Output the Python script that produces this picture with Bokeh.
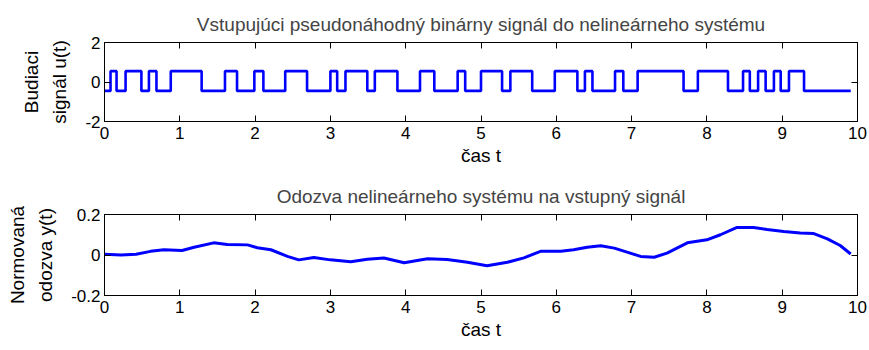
from bokeh.plotting import figure
from bokeh.layouts import column
from bokeh.models import Range1d, LinearAxis, FixedTicker, PrintfTickFormatter
from bokeh.embed import file_html
from bokeh.resources import INLINE

# ---- data ----
# input PRBS: times where the level changes, and the level held from that time
u_times = [0.0, 0.08, 0.16, 0.28, 0.49, 0.59, 0.69, 0.88, 1.29, 1.60, 1.76,
           1.99, 2.11, 2.40, 2.69, 3.00, 3.09, 3.20, 3.49, 3.59, 3.89, 4.19,
           4.38, 4.69, 4.79, 5.00, 5.28, 5.39, 5.68, 5.98, 6.28, 6.38, 6.48,
           6.78, 6.89, 7.08, 7.69, 7.88, 8.28, 8.48, 8.57, 8.68, 8.78, 8.89,
           8.98, 9.09, 9.29]
u_low, u_high = -0.45, 0.55
u_levels = [u_low if i % 2 == 0 else u_high for i in range(len(u_times))]
u_end = 9.91

# normalised response
y_t = [0.0, 0.22, 0.42, 0.61, 0.79, 1.03, 1.19, 1.45, 1.63, 1.90, 2.03, 2.21,
       2.43, 2.58, 2.78, 3.00, 3.27, 3.49, 3.71, 3.98, 4.29, 4.55, 4.82, 5.08,
       5.35, 5.57, 5.79, 6.06, 6.23, 6.41, 6.59, 6.77, 6.94, 7.12, 7.30, 7.47,
       7.74, 8.00, 8.18, 8.40, 8.62, 8.80, 9.02, 9.24, 9.42, 9.60, 9.77, 9.91]
y_val = [0.004, 0.0, 0.004, 0.018, 0.026, 0.022, 0.038, 0.060, 0.052, 0.050,
         0.036, 0.026, -0.007, -0.024, -0.012, -0.024, -0.033, -0.021, -0.015,
         -0.038, -0.019, -0.022, -0.036, -0.053, -0.036, -0.014, 0.018, 0.019,
         0.026, 0.038, 0.046, 0.034, 0.014, -0.007, -0.011, 0.009, 0.060,
         0.075, 0.100, 0.136, 0.136, 0.126, 0.116, 0.109, 0.106, 0.080, 0.047,
         0.005]

x_ticks = list(range(0, 11))
u_ticks = [-2, 0, 2]
y_ticks = [-0.2, 0, 0.2]

FONT = "Liberation Sans"
FS = "17px"
FS_TXT = "19px"


def style(p, yticks, title, ylabel, title_standoff):
    p.title.text = title
    p.title.align = "center"
    p.title.text_font = FONT
    p.title.text_font_size = FS_TXT
    p.title.text_font_style = "normal"
    p.title.standoff = title_standoff
    p.xgrid.visible = False
    p.ygrid.visible = False
    p.outline_line_color = "black"
    for ax in p.xaxis:
        ax.ticker = FixedTicker(ticks=x_ticks)
        ax.formatter = PrintfTickFormatter(format="%g")
        ax.axis_label = "čas t"
        ax.major_label_standoff = 5
        ax.axis_label_standoff = 3
    for ax in p.yaxis:
        ax.ticker = FixedTicker(ticks=yticks)
        ax.formatter = PrintfTickFormatter(format="%g")
        ax.axis_label = ylabel
        ax.major_label_standoff = 4
        ax.axis_label_standoff = 12
        ax.axis_label_text_line_height = 1.35
    for ax in p.xaxis + p.yaxis:
        ax.major_tick_in = 6
        ax.major_tick_out = 0
        ax.minor_tick_in = 0
        ax.minor_tick_out = 0
        ax.axis_line_color = "black"
        ax.major_tick_line_color = "black"
        ax.major_label_text_font = FONT
        ax.major_label_text_font_size = FS
        ax.major_label_text_color = "black"
        ax.axis_label_text_font = FONT
        ax.axis_label_text_font_size = FS_TXT
        ax.axis_label_text_font_style = "normal"
        ax.axis_label_text_color = "black"
    # box ticks on top and right (no labels)
    top = LinearAxis(ticker=FixedTicker(ticks=x_ticks), major_tick_in=6,
                     major_tick_out=0, minor_tick_in=0, minor_tick_out=0,
                     major_label_text_font_size="1px", major_label_text_color=None,
                     major_label_standoff=0, axis_line_color="black")
    right = LinearAxis(ticker=FixedTicker(ticks=yticks), major_tick_in=6,
                       major_tick_out=0, minor_tick_in=0, minor_tick_out=0,
                       major_label_text_font_size="1px", major_label_text_color=None,
                       major_label_standoff=0, axis_line_color="black")
    p.add_layout(top, "above")
    p.add_layout(right, "right")


p1 = figure(width=869, height=175, output_backend="svg", toolbar_location=None,
            x_range=Range1d(0, 10), y_range=Range1d(-2, 2),
            min_border_left=104, min_border_right=12,
            min_border_top=42, min_border_bottom=54,
            background_fill_color="white", border_fill_color="white")
style(p1, u_ticks, "Vstupujúci pseudonáhodný binárny signál do nelineárneho systému",
      "Budiaci\nsignál u(t)", 15)
p1.step(u_times + [u_end], u_levels + [u_levels[-1]], mode="after",
        line_color="#0000ff", line_width=2.6)

p2 = figure(width=869, height=175, output_backend="svg", toolbar_location=None,
            x_range=Range1d(0, 10), y_range=Range1d(-0.2, 0.2),
            min_border_left=104, min_border_right=12,
            min_border_top=39, min_border_bottom=55,
            background_fill_color="white", border_fill_color="white")
style(p2, y_ticks, "Odozva nelineárneho systému na vstupný signál",
      "Normovaná\nodozva y(t)", 15)
p2.line(y_t, y_val, line_color="#0000ff", line_width=3)

layout = column(p1, p2, spacing=0)
open("out.html", "w").write(file_html(layout, INLINE))
